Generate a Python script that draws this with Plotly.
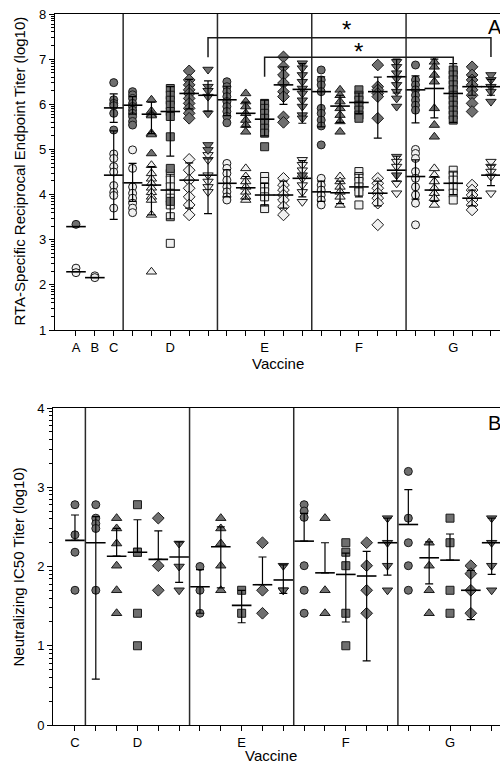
import math
import plotly.graph_objects as go

# ---------------- Panel A: RTA-specific endpoint titers (log10) ----------------
# positions: A=1, B=2, C=3, D=4..8, E=9..13, F=14..18, G=19..23
a_ticktext = ["A", "B", "C", "", "", "D", "", "", "", "", "E", "", "",
              "", "", "F", "", "", "", "", "G", "", ""]
shape_cycle = ["circle", "triangle-up", "square", "diamond", "triangle-down"]

# filled (upper) points per column
fill_ABC = [[3.34], [], [6.48, 6.10, 6.02, 5.97, 5.80, 5.43]]
fill_D = [[6.28, 6.21, 6.13, 6.02, 5.95, 5.87, 5.80, 5.73, 5.62, 5.54],
          [6.10, 5.85, 5.78, 5.75, 5.36, 5.33, 4.91],
          [6.35, 6.20, 6.09, 5.98, 5.84, 5.73, 5.28, 4.58, 3.85],
          [6.74, 6.54, 6.43, 6.32, 6.24, 6.13, 6.02, 5.91, 5.80, 5.69],
          [6.77, 6.39, 6.30, 6.17, 5.80, 5.10, 4.99]]
fill_E = [[6.50, 6.39, 6.28, 6.17, 6.06, 5.95, 5.84, 5.73, 5.59],
          [6.24, 6.06, 5.95, 5.80, 5.65, 5.54, 5.39],
          [6.02, 5.91, 5.80, 5.69, 5.58, 5.47, 5.36, 5.06],
          [7.05, 6.83, 6.65, 6.47, 6.28, 6.17, 5.72, 5.60],
          [6.91, 6.80, 6.65, 6.50, 6.35, 6.24, 6.09, 5.95, 5.76, 5.69, 4.43]]
fill_F = [[6.76, 6.54, 6.43, 6.28, 5.91, 5.80, 5.65, 5.52, 5.10],
          [6.32, 6.20, 6.06, 5.91, 5.76, 5.62, 5.39],
          [6.32, 6.20, 6.09, 5.98, 5.87, 5.76, 5.69],
          [6.87, 6.39, 6.32, 6.24, 6.17, 5.69],
          [6.94, 6.83, 6.69, 6.57, 6.43, 6.28, 6.13, 5.95, 4.43]]
fill_G = [[6.87, 6.54, 6.43, 6.32, 6.20, 6.09, 5.98, 5.87],
          [6.94, 6.83, 6.65, 6.50, 5.91, 5.54, 5.28],
          [6.76, 6.65, 6.54, 6.43, 6.32, 6.20, 6.09, 5.98, 5.87, 5.76, 5.65],
          [6.83, 6.65, 6.54, 6.43, 6.32, 6.20, 6.02, 5.84],
          [6.65, 6.54, 6.39, 6.28, 6.06]]

# open (lower) points per column
open_ABC = [[2.37, 2.27], [2.20, 2.16], [4.90, 4.80, 4.62, 4.50, 4.20, 4.05, 3.98, 3.70]]
open_D = [[4.99, 4.58, 4.17, 4.03, 3.92, 3.81, 3.70, 3.60],
          [4.65, 4.47, 4.35, 4.25, 4.15, 4.05, 3.95, 3.88, 3.55, 2.29],
          [4.47, 4.32, 4.17, 4.03, 3.92, 3.77, 3.51, 2.92],
          [4.78, 4.54, 4.32, 4.14, 3.95, 3.77, 3.55],
          [4.88, 4.77, 4.43, 4.29, 4.17, 4.06]]
open_E = [[4.69, 4.58, 4.47, 4.32, 4.17, 4.06, 3.95, 3.88],
          [4.58, 4.40, 4.29, 4.17, 4.06, 3.95, 3.88],
          [4.40, 4.29, 4.17, 4.06, 3.95, 3.69],
          [4.36, 4.21, 4.10, 3.99, 3.88, 3.73, 3.55],
          [4.77, 4.66, 4.54, 4.36, 4.21, 4.06, 3.84]]
open_F = [[4.36, 4.21, 4.10, 3.99, 3.88, 3.77],
          [4.40, 4.29, 4.17, 4.06, 3.95, 3.77],
          [4.51, 4.40, 4.29, 4.17, 4.06, 3.77],
          [4.36, 4.25, 4.14, 4.03, 3.92, 3.81, 3.33],
          [4.84, 4.73, 4.62, 4.25, 4.03]]
open_G = [[5.00, 4.91, 4.80, 4.51, 4.36, 4.17, 3.99, 3.81, 3.33],
          [4.58, 4.43, 4.29, 4.14, 4.03, 3.92, 3.77],
          [4.54, 4.43, 4.32, 4.17, 4.03, 3.88],
          [4.21, 4.10, 3.99, 3.88, 3.77, 3.66],
          [4.73, 4.62, 4.51, 4.40, 4.03]]

# group means and error-bar ends (upper cluster)
a_f_mean = [3.29, None, 5.92, 5.98, 5.78, 5.84, 6.24, 6.20, 6.10, 5.80, 5.67, 6.43, 6.33,
            6.28, 5.96, 6.04, 6.28, 6.61, 6.32, 6.35, 6.24, 6.39, 6.39]
a_f_top = [3.29, None, 6.23, 6.17, 6.05, 6.39, 6.55, 6.52, 6.40, 6.05, 6.09, 6.83, 6.90,
           6.61, 6.20, 6.25, 6.60, 7.00, 6.63, 7.00, 6.90, 6.60, 6.55]
a_f_bot = [3.29, None, 5.60, 5.78, 5.35, 4.85, 5.90, 5.85, 5.75, 5.50, 5.30, 6.00, 5.58,
           5.50, 5.60, 5.80, 5.25, 6.25, 5.59, 5.70, 5.60, 6.20, 6.20]
# lower cluster
a_o_mean = [2.29, 2.16, 4.43, 4.26, 4.21, 4.10, 4.32, 4.43, 4.25, 4.15, 3.99, 3.99, 4.36,
            4.06, 4.04, 4.17, 4.03, 4.54, 4.40, 4.10, 4.25, 3.92, 4.43]
a_o_top = [2.29, 2.16, 5.41, 4.69, 4.62, 4.45, 4.70, 4.79, 4.55, 4.40, 4.25, 4.30, 4.75,
           4.30, 4.30, 4.45, 4.30, 4.85, 4.77, 4.40, 4.50, 4.10, 4.65]
a_o_bot = [2.29, 2.16, 3.45, 3.85, 3.55, 3.46, 3.70, 3.58, 3.95, 3.90, 3.75, 3.70, 3.95,
           3.85, 3.80, 3.95, 3.75, 4.30, 3.90, 3.85, 4.00, 3.75, 4.20]

# ---------------- Panel B: neutralizing IC50 titers (log10) ----------------
# positions: C=0, D=1..5, E=6..10, F=11..15, G=16..20
b_ticktext = ["C", "", "", "D", "", "", "", "", "E", "", "", "", "", "F", "", "",
              "", "", "G", "", ""]
neut_C = [[2.78, 2.40, 2.18, 1.70]]
neut_D = [[2.78, 2.61, 2.54, 2.48, 1.70],
          [2.61, 2.48, 2.29, 2.01, 1.70, 1.41],
          [2.78, 2.18, 2.18, 1.41, 1.00],
          [2.61, 2.01, 1.70],
          [2.29, 2.00, 1.70]]
neut_E = [[2.00, 1.70, 1.41],
          [2.61, 2.48, 2.29, 2.01, 1.70],
          [1.70, 1.41],
          [2.30, 1.70, 1.41],
          [2.01, 1.70, 1.70]]
neut_F = [[2.78, 2.70, 2.62, 2.01, 1.70, 1.41],
          [2.61, 1.70, 1.41],
          [2.30, 2.18, 2.01, 1.41, 1.00],
          [2.30, 2.01, 1.70, 1.41],
          [2.61, 2.30, 2.01, 1.70]]
neut_G = [[3.20, 2.61, 2.30, 2.01, 1.70],
          [2.30, 2.01, 1.70, 1.41],
          [2.61, 2.30, 1.70, 1.41],
          [2.01, 1.91, 1.70, 1.41],
          [2.61, 2.30, 2.01, 1.70]]
b_mean = [2.33, 2.30, 2.13, 2.18, 2.09, 2.12, 1.745, 2.25, 1.51, 1.77, 1.83,
          2.32, 1.92, 1.90, 1.88, 2.30, 2.53, 2.11, 2.08, 1.70, 2.30]
b_top = [2.65, 2.63, 2.48, 2.59, 2.45, 2.31, 1.96, 2.50, 1.70, 2.12, 2.02,
         2.67, 2.30, 2.17, 2.19, 2.61, 2.97, 2.31, 2.41, 1.95, 2.61]
b_bot = [None, 0.58, None, None, None, 1.80, 1.41, 1.73, 1.29, None, 1.66,
         None, None, 1.30, 0.81, 1.89, None, 1.78, None, 1.33, 1.90]

# ---------------- build ----------------
FILL_DARK = "#6f6f6f"
FILL_LIGHT = "#f0f0f0"
EDGE = "#1a1a1a"

fig = go.Figure()

a_fill = fill_ABC + fill_D + fill_E + fill_F + fill_G
a_open = open_ABC + open_D + open_E + open_F + open_G
a_syms = ["circle"] * 3 + shape_cycle * 4
a_pos = list(range(1, 24))

b_vals = neut_C + neut_D + neut_E + neut_F + neut_G
b_syms = ["circle"] + shape_cycle * 4
b_pos = list(range(0, 21))


def add_points(columns, positions, symbols, fillcolor, xa, ya):
    for sym in dict.fromkeys(symbols):
        xs, ys = [], []
        for col, p, s in zip(columns, positions, symbols):
            if s != sym:
                continue
            for v in col:
                xs.append(p)
                ys.append(v)
        if not xs:
            continue
        fig.add_trace(go.Scatter(
            x=xs, y=ys, mode="markers", xaxis=xa, yaxis=ya, hoverinfo="skip",
            marker=dict(symbol=sym, size=8 if sym in ("circle", "square") else 9,
                        color=fillcolor, line=dict(color=EDGE, width=1))))


def add_bars(positions, means, tops, bots, xa, ya):
    xs, ys, up, dn = [], [], [], []
    for p, m, t, b in zip(positions, means, tops, bots):
        if m is None:
            continue
        xs.append(p)
        ys.append(m)
        up.append(t - m)
        dn.append(0 if b is None else m - b)
    fig.add_trace(go.Scatter(
        x=xs, y=ys, mode="markers", xaxis=xa, yaxis=ya, hoverinfo="skip",
        marker=dict(symbol="line-ew", size=14, color="black",
                    line=dict(color="black", width=1.6)),
        error_y=dict(type="data", symmetric=False, array=up, arrayminus=dn,
                     color="black", thickness=1.2, width=4)))


add_points(a_open, a_pos, a_syms, FILL_LIGHT, "x", "y")
add_points(a_fill, a_pos, a_syms, FILL_DARK, "x", "y")
add_bars(a_pos, a_f_mean, a_f_top, a_f_bot, "x", "y")
add_bars(a_pos, a_o_mean, a_o_top, a_o_bot, "x", "y")

add_points(b_vals, b_pos, b_syms, FILL_DARK, "x2", "y2")
add_bars(b_pos, b_mean, b_top, b_bot, "x2", "y2")

W, H = 500, 764


def px(x):
    return x / W


def py(y):
    return 1 - y / H


def log_minor(lo, hi):
    out = []
    for d in range(lo, hi):
        for k in range(2, 10):
            out.append(d + math.log10(k))
    return out


axis_common = dict(showgrid=False, zeroline=False, showline=True, linecolor="black",
                   linewidth=1.3, ticks="outside", ticklen=5, tickwidth=1,
                   tickcolor="black", automargin=False)
xfont = dict(family="Liberation Sans, Arial", size=13, color="black")
yfont = dict(family="Liberation Sans, Arial", size=13, color="black")

fig.update_layout(
    width=W, height=H, margin=dict(l=0, r=0, t=0, b=0), template="none",
    paper_bgcolor="white", plot_bgcolor="white", showlegend=False,
    font=dict(family="Liberation Sans, Arial", color="black"),
    xaxis=dict(domain=[px(55), 1], range=[-0.113, 23.48], tickmode="array",
               tickvals=a_pos, ticktext=a_ticktext, mirror=True, anchor="y",
               tickfont=xfont, **axis_common),
    yaxis=dict(domain=[py(330), py(14)], range=[1, 8], tickmode="array",
               tickvals=list(range(1, 9)), anchor="x", tickfont=yfont,
               minor=dict(tickmode="array", tickvals=log_minor(1, 8), ticklen=3,
                          ticks="outside", tickcolor="black", tickwidth=1),
               **axis_common),
    xaxis2=dict(domain=[px(53.3), 1], range=[-1.04, 20.4], tickmode="array",
                tickvals=b_pos, ticktext=b_ticktext, mirror=True, anchor="y2",
                tickfont=xfont, **axis_common),
    yaxis2=dict(domain=[py(725), py(408)], range=[0, 4], tickmode="array",
                tickvals=list(range(0, 5)), anchor="x2", tickfont=yfont,
                minor=dict(tickmode="array", tickvals=log_minor(0, 4), ticklen=3,
                           ticks="outside", tickcolor="black", tickwidth=1),
                **axis_common),
)

shapes = []
for xs in [3.5, 8.5, 13.5, 18.5]:
    shapes.append(dict(type="line", xref="x", yref="y", x0=xs, x1=xs, y0=1, y1=8,
                       line=dict(color="#2a2a2a", width=1.5)))
for xs in [0.5, 5.5, 10.5, 15.5]:
    shapes.append(dict(type="line", xref="x2", yref="y2", x0=xs, x1=xs, y0=0, y1=4,
                       line=dict(color="#2a2a2a", width=1.5)))
# significance brackets (panel A)
shapes.append(dict(type="path", xref="x", yref="y",
                   path="M 8,7.04 L 8,7.475 L 23,7.475 L 23,7.05",
                   line=dict(color="#1a1a1a", width=1.5)))
shapes.append(dict(type="path", xref="x", yref="y",
                   path="M 11,6.61 L 11,7.04 L 21,7.04 L 21,6.80",
                   line=dict(color="#1a1a1a", width=1.5)))
fig.update_layout(shapes=shapes)

ann = [
    dict(text="*", x=15.35, y=7.65, xref="x", yref="y", showarrow=False,
         font=dict(size=24, color="black"), xanchor="center", yanchor="middle"),
    dict(text="*", x=15.97, y=7.16, xref="x", yref="y", showarrow=False,
         font=dict(size=24, color="black"), xanchor="center", yanchor="middle"),
    dict(text="A", x=px(486), y=py(27.5), xref="paper", yref="paper", showarrow=False,
         font=dict(size=20, color="black"), xanchor="left", yanchor="middle"),
    dict(text="B", x=px(486), y=py(422.5), xref="paper", yref="paper", showarrow=False,
         font=dict(size=20, color="black"), xanchor="left", yanchor="middle"),
    dict(text="RTA-Specific Reciprocal Endpoint Titer (log10)", x=px(19), y=py(171.5),
         xref="paper", yref="paper", showarrow=False, textangle=-90,
         font=dict(size=15, color="black"), xanchor="center", yanchor="middle"),
    dict(text="Neutralizing IC50 Titer (log10)", x=px(18), y=py(567.5),
         xref="paper", yref="paper", showarrow=False, textangle=-90,
         font=dict(size=15, color="black"), xanchor="center", yanchor="middle"),
    dict(text="Vaccine", x=px(278), y=py(363), xref="paper", yref="paper",
         showarrow=False, font=dict(size=15, color="black"),
         xanchor="center", yanchor="middle"),
    dict(text="Vaccine", x=px(271), y=py(755), xref="paper", yref="paper",
         showarrow=False, font=dict(size=15, color="black"),
         xanchor="center", yanchor="middle"),
]
fig.update_layout(annotations=ann)

fig.write_html("out.html", post_script="document.body.style.margin='0px';",
               config={"displayModeBar": False})
